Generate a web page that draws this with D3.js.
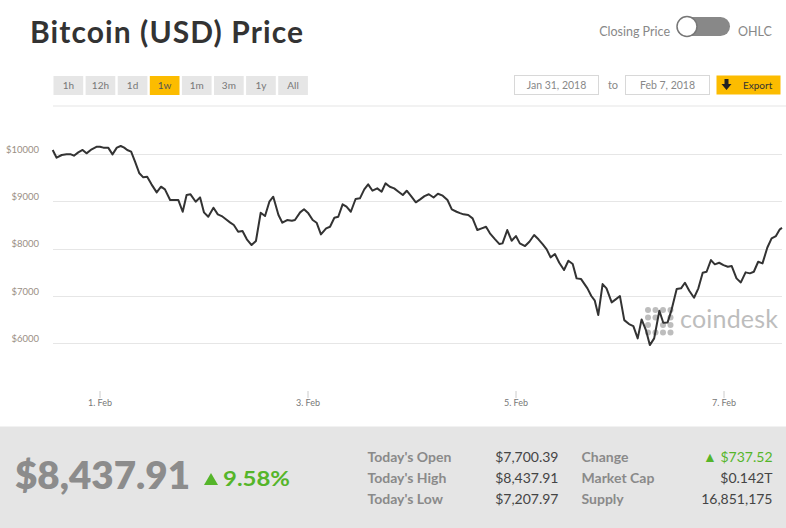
<!DOCTYPE html>
<html><head><meta charset="utf-8">
<script src="https://cdn.jsdelivr.net/npm/d3@7"></script>
<style>
html,body{margin:0;padding:0;background:#fff;}
svg{display:block;font-family:Lato,"Open Sans",sans-serif;}
</style></head>
<body><svg id="c" width="786" height="528"></svg>
<script>
// hours since 2018-01-31 00:00 UTC
const hours = [13.2,14.1,15.3,16.4,17.4,18.1,19.1,20.1,21.0,22.2,23.4,24.1,24.9,26.0,27.0,28.0,28.9,29.7,30.4,31.3,
32.2,33.2,34.1,35.0,36.0,37.2,38.2,39.1,40.3,41.2,42.2,43.2,44.1,45.0,46.2,47.2,48.1,49.1,50.3,51.3,
52.2,53.1,54.1,55.0,56.0,57.0,58.0,59.1,60.1,61.2,62.2,63.2,64.1,65.3,66.2,67.3,68.4,69.1,70.3,71.2,
72.2,73.2,74.1,75.1,76.3,77.2,78.2,79.1,80.1,81.0,82.0,83.1,84.1,85.1,86.0,87.0,88.1,89.1,90.0,91.0,
92.0,93.0,94.0,94.9,96.0,97.0,98.0,99.0,100.0,101.1,102.1,103.2,104.3,105.3,106.4,107.2,108.0,109.1,110.1,111.2,
112.2,113.2,114.1,115.3,116.3,117.0,118.1,119.1,120.1,121.0,122.2,123.2,124.3,125.3,126.3,127.2,128.1,129.1,130.1,131.2,
132.2,133.2,134.1,135.1,136.6,137.5,138.3,139.1,140.1,141.0,142.2,143.2,144.1,145.1,146.2,147.2,148.2,149.1,150.1,151.0,
152.0,153.2,154.1,155.1,156.0,157.2,158.2,159.1,160.1,161.2,162.2,163.2,164.1,165.1,166.0,167.0,168.0,169.0,169.9,171.0,
172.0,173.1,174.1,175.0,176.0,177.0,178.1,179.1,180.1,181.0,181.5];
const prices = [10085,9922,9979,9993,9993,9964,10035,10085,10014,10099,10155,10155,10134,10134,9993,10134,10169,10134,10085,10049,
9837,9592,9507,9520,9359,9190,9309,9253,9027,9027,9027,8780,9133,9148,8992,9084,8767,8674,8865,8725,
8689,8626,8556,8499,8357,8372,8197,8076,8161,8759,8689,8992,9097,8710,8548,8605,8590,8605,8767,8831,
8746,8605,8548,8302,8429,8463,8653,8674,8937,8886,8780,9049,9063,9253,9359,9224,9274,9203,9380,9309,
9274,9203,9133,9224,9097,8979,9042,9110,9150,9080,9160,9120,9027,8831,8780,8750,8725,8710,8640,8393,
8429,8463,8323,8197,8097,8112,8393,8167,8266,8112,8055,8146,8288,8197,8091,7985,7816,7886,7702,7548,
7745,7674,7372,7360,7161,7000,6900,6596,7252,7161,6865,6934,6998,6490,6406,6364,6104,6505,6279,5962,
6104,6687,6433,6442,6702,7146,7161,7279,7110,6962,7161,7491,7512,7759,7668,7702,7653,7618,7632,7372,
7287,7499,7478,7512,7723,7689,8019,8218,8266,8408,8438];
const yTicks = [6000,7000,8000,9000,10000];
const xTickDays = [1,3,5,7];
const rangeButtons = ["1h","12h","1d","1w","1m","3m","1y","All"];
const activeButton = "1w";
const dateFrom = "Jan 31, 2018", dateTo = "Feb 7, 2018";
const lastPrice = "$8,437.91", pctChange = "9.58%";
const statLabels1 = ["Today's Open","Today's High","Today's Low"];
const statValues1 = ["$7,700.39","$8,437.91","$7,207.97"];
const statLabels2 = ["Change","Market Cap","Supply"];
const statValues2 = ["▲ $737.52","$0.142T","16,851,175"];

const svg = d3.select("#c");
const start = Date.UTC(2018,0,31);
const data = hours.map((h,i)=>({t:new Date(start + h*3600e3), v:prices[i]}));

const x = d3.scaleUtc().domain([new Date(Date.UTC(2018,1,1)), new Date(Date.UTC(2018,1,7))]).range([99.5,723.5]);
const y = d3.scaleLinear().domain([6000,10000]).range([343.3,154]);

// header
svg.append("text").attr("x",30).attr("y",43).attr("font-size",30).attr("font-weight",700)
  .attr("fill","#333").attr("textLength",273).attr("lengthAdjust","spacing").text("Bitcoin (USD) Price");
svg.append("text").attr("x",670).attr("y",36).attr("text-anchor","end").attr("font-size",12.5).attr("fill","#888").text("Closing Price");
svg.append("rect").attr("x",677).attr("y",17).attr("width",53).attr("height",19).attr("rx",9.5).attr("fill","#888");
svg.append("circle").attr("cx",687).attr("cy",26.5).attr("r",10).attr("fill","#fff").attr("stroke","#777").attr("stroke-width",1.5);
svg.append("text").attr("x",738).attr("y",36).attr("font-size",12.5).attr("fill","#888").text("OHLC");

// range buttons
const bg = svg.append("g").selectAll("g").data(rangeButtons).join("g")
  .attr("transform",(d,i)=>`translate(${53.5+i*32.1},76)`);
bg.append("rect").attr("width",29.7).attr("height",19).attr("fill",d=>d===activeButton?"#fcbc00":"#e6e6e6");
bg.append("text").attr("x",14.85).attr("y",13).attr("text-anchor","middle").attr("font-size",10).attr("fill",d=>d===activeButton?"#555":"#777").text(d=>d);

// date boxes
[[514.5,dateFrom],[625.5,dateTo]].forEach(([bx,t])=>{
  svg.append("rect").attr("x",bx).attr("y",75.5).attr("width",84).attr("height",19).attr("fill","#fff").attr("stroke","#d8d8d8");
  svg.append("text").attr("x",bx+42).attr("y",89).attr("text-anchor","middle").attr("font-size",10.5).attr("fill","#888").text(t);
});
svg.append("text").attr("x",613).attr("y",89).attr("text-anchor","middle").attr("font-size",11).attr("fill","#888").text("to");
svg.append("rect").attr("x",716.5).attr("y",75.5).attr("width",64).attr("height",19).attr("fill","#fcbc00");
svg.append("path").attr("d","M724.5,79 h4 v5 h3 l-5,6 l-5,-6 h3 z").attr("fill","#222");
svg.append("text").attr("x",743).attr("y",88.5).attr("font-size",10).attr("fill","#333").text("Export");

// separator line
svg.append("line").attr("x1",53).attr("x2",786).attr("y1",106).attr("y2",106).attr("stroke","#eeeeee").attr("stroke-width",1.5);

// gridlines
svg.append("g").selectAll("line").data(yTicks).join("line")
  .attr("x1",53).attr("x2",782).attr("y1",d=>Math.round(y(d))+0.5).attr("y2",d=>Math.round(y(d))+0.5)
  .attr("stroke","#e6e6e6");
// y labels
const ya = svg.append("g").attr("transform","translate(39,0)")
  .call(d3.axisLeft(y).tickValues(yTicks).tickSize(0).tickPadding(0).tickFormat(d=>"$"+d));
ya.select(".domain").remove();
ya.selectAll("text").attr("font-size",9.5).attr("fill","#9a8f84").attr("font-family","Lato,sans-serif").attr("dy","-0.2em");

// x axis
const xa = svg.append("g").attr("transform","translate(0,391)")
  .call(d3.axisBottom(x).tickValues(xTickDays.map(d=>new Date(Date.UTC(2018,1,d)))).tickSize(7).tickPadding(2)
    .tickFormat(d=>d.getUTCDate()+". Feb"));
xa.select(".domain").remove();
xa.selectAll("line").attr("stroke","#ccc");
xa.selectAll("text").attr("font-size",9).attr("fill","#777").attr("font-family","Lato,sans-serif");

// watermark
const wm = svg.append("g").attr("opacity",0.55);
const dots = [[0,0],[1,0],[2,0],[3,0],[0,1],[3,1],[0,2],[3,2],[0,3],[1,3],[2,3],[3,3],[1,1],[2,2]];
wm.selectAll("circle").data(dots).join("circle")
  .attr("cx",d=>648+d[0]*7.5).attr("cy",d=>310+d[1]*7.5).attr("r",3).attr("fill","#888");
wm.append("text").attr("x",680).attr("y",328).attr("font-size",25).attr("fill","#888")
  .attr("textLength",98).attr("lengthAdjust","spacing").text("coindesk");

// line
const line = d3.line().x(d=>x(d.t)).y(d=>y(d.v)).curve(d3.curveLinear);
svg.append("path").datum(data).attr("d",line).attr("fill","none").attr("stroke","#333")
  .attr("stroke-width",2).attr("stroke-linejoin","round");

// bottom panel
svg.append("rect").attr("x",0).attr("y",426.5).attr("width",786).attr("height",102).attr("fill","#e5e5e5");
svg.append("text").attr("x",15).attr("y",489).attr("font-size",38).attr("font-weight",800).attr("fill","#8c8c8c")
  .attr("textLength",175).attr("lengthAdjust","spacingAndGlyphs").text(lastPrice);
svg.append("path").attr("d","M204,485 l7,-12 l7,12 z").attr("fill","#55b52a");
svg.append("text").attr("x",223).attr("y",485.5).attr("font-size",21).attr("font-weight",700).attr("fill","#55b52a")
  .attr("textLength",67).attr("lengthAdjust","spacingAndGlyphs").text(pctChange);

const rowY = [462,483,503.5];
statLabels1.forEach((t,i)=>{
  svg.append("text").attr("x",367.5).attr("y",rowY[i]).attr("font-size",14).attr("font-weight",700).attr("fill","#8a8a8a").text(t);
  svg.append("text").attr("x",558.5).attr("y",rowY[i]).attr("text-anchor","end").attr("font-size",14).attr("fill","#444").text(statValues1[i]);
});
statLabels2.forEach((t,i)=>{
  svg.append("text").attr("x",581.5).attr("y",rowY[i]).attr("font-size",14).attr("font-weight",700).attr("fill","#8a8a8a").text(t);
  svg.append("text").attr("x",772.5).attr("y",rowY[i]).attr("text-anchor","end").attr("font-size",14)
    .attr("fill",i===0?"#55b52a":"#444").text(statValues2[i]);
});
</script></body></html>
